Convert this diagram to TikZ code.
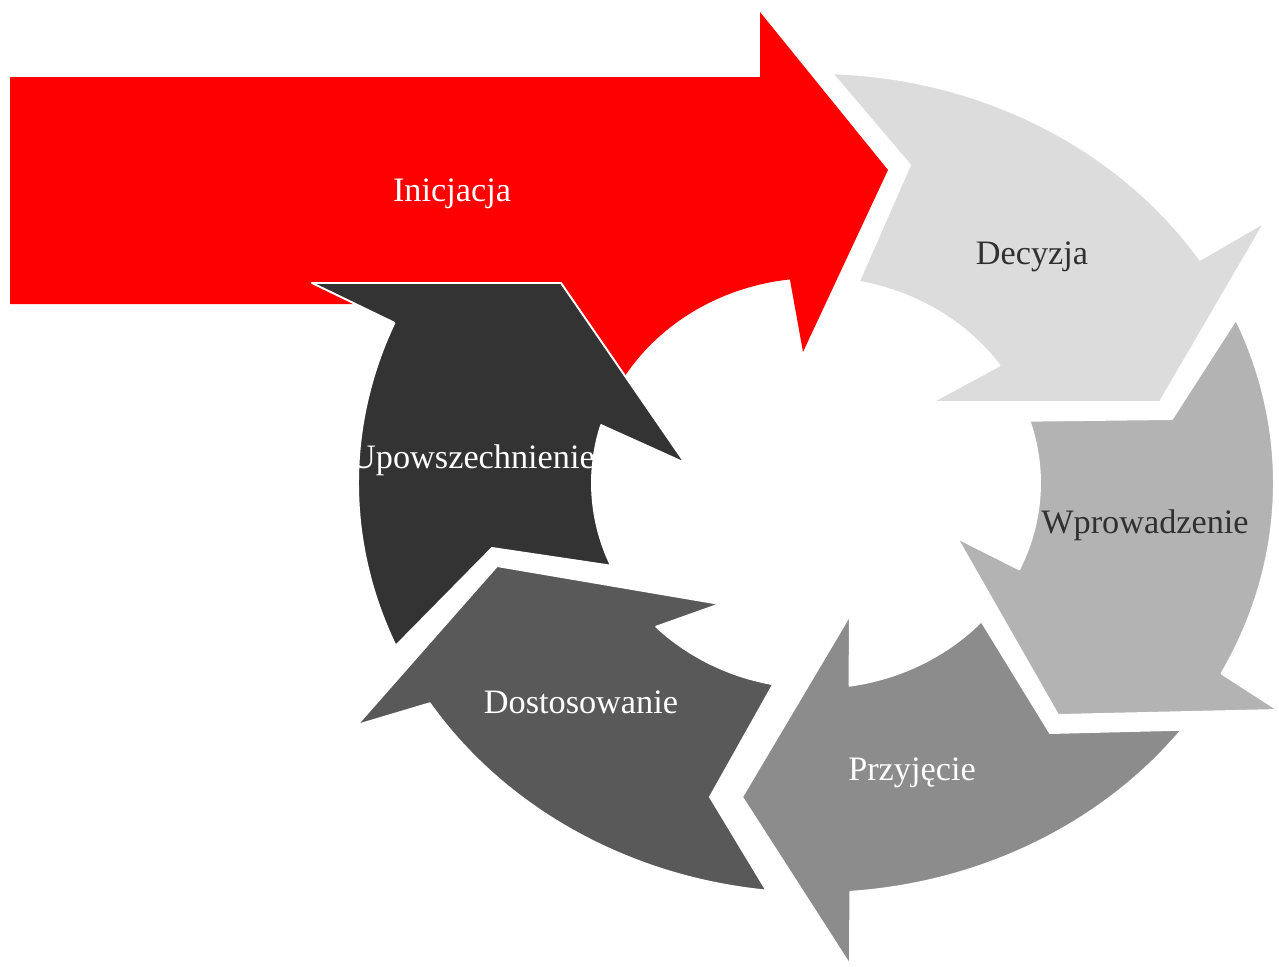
\documentclass[tikz,border=0pt]{standalone}
\usepackage{fontspec}
\setmainfont{Liberation Serif}
\definecolor{cRed}{HTML}{FE0000}
\definecolor{cDec}{HTML}{DCDCDC}
\definecolor{cWpr}{HTML}{B3B3B3}
\definecolor{cPrz}{HTML}{8C8C8C}
\definecolor{cDos}{HTML}{595959}
\definecolor{cUpo}{HTML}{333333}
\definecolor{cInk}{HTML}{303030}
\begin{document}
\begin{tikzpicture}[x=0.02cm, y=-0.02cm,
  seg/.style={draw=white, line width=1.1pt, line join=round},
  lbl/.style={font=\fontsize{19.5}{23}\selectfont, inner sep=0pt},
  % outer and inner rims of the ring (elliptical, centre 816/483)
  oarc/.style 2 args={insert path={plot[domain=#1:#2, samples=60, variable=\t] ({816+458*cos(\t)},{483+410*sin(\t)})}},
  iarc/.style 2 args={insert path={-- plot[domain=#1:#2, samples=40, variable=\t] ({816+224*cos(\t)},{483+205*sin(\t)})}},
]
\useasboundingbox (0,0) rectangle (1279,967);

% straight entry arrow joined to the first ring segment
\path[fill=cRed] (10,304) -- (10,77) -- (760,77) -- (760,12) -- (888,170)
  -- (803,352) -- (790,280) [iarc={263.3}{208}] -- (540,300) -- (400,304) -- cycle;

% ring segments, clockwise
\path[seg, fill=cDec] [oarc={-88}{-33}] -- (1265,222) -- (1160,402) -- (932,402)
  [iarc={-35}{-79}] -- (910,165) -- cycle;
\path[seg, fill=cWpr] [oarc={-23.5}{27.7}] -- (1278,710) -- (1058,715) -- (957,538)
  [iarc={24.9}{-17.7}] -- (1172,419) -- cycle;
\path[seg, fill=cPrz] [oarc={37}{85.7}] -- (850,965) -- (742,797) -- (850,615)
  [iarc={81.4}{42.4}] -- (1050,733) -- cycle;
\path[seg, fill=cDos] [oarc={96.2}{147.5}] -- (357,725) -- (497,566) -- (720,604)
  [iarc={135.5}{101}] -- (710,797) -- cycle;
\path[seg, fill=cUpo] [oarc={156.6}{203}] -- (312,283) -- (561,283) -- (685,463)
  [iarc={196.4}{156.2}] -- (492,548) -- cycle;

% labels
\node[lbl, text=white] (ini) at (452,194) {Inicjacja};
\node[lbl, text=cInk]  (dec) at (1032,257) {Decyzja};
\node[lbl, text=cInk]  (wpr) at (1145,525) {Wprowadzenie};
\node[lbl, text=white] (prz) at (912,773) {Przyjęcie};
\node[lbl, text=white] (dos) at (581,702) {Dostosowanie};
\node[lbl, text=white] (upo) at (473,460) {Upowszechnienie};
\end{tikzpicture}
\end{document}
